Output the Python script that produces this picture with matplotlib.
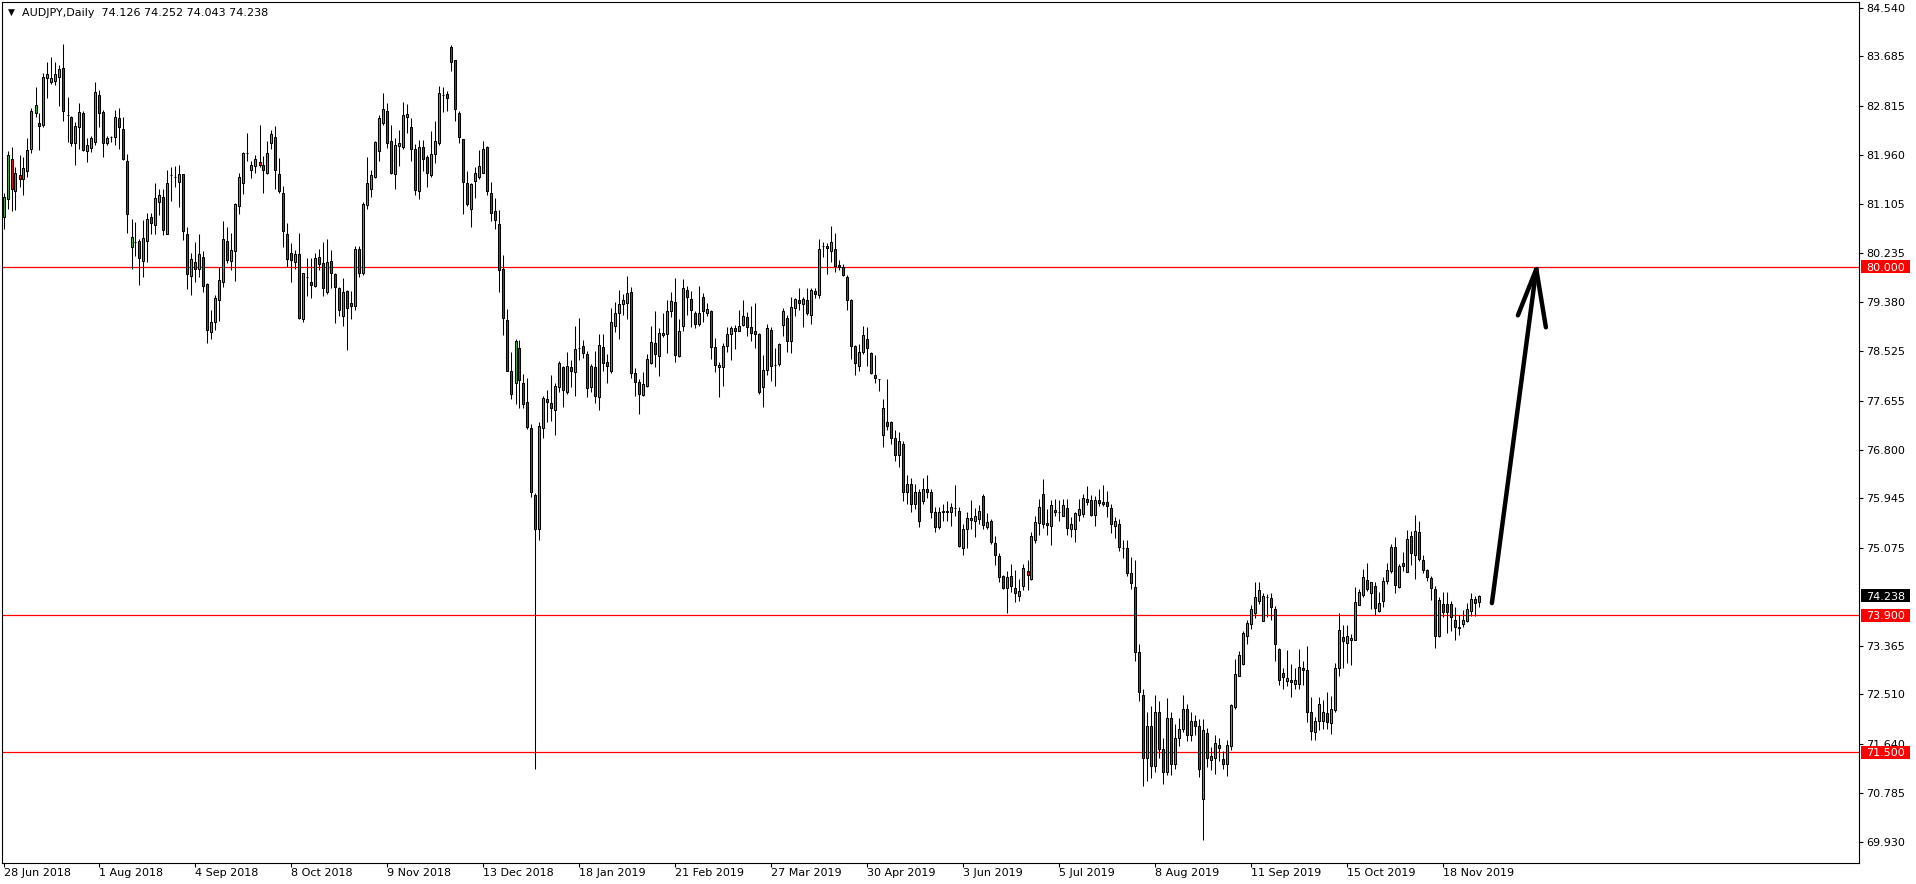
import numpy as np
import matplotlib.pyplot as plt
from matplotlib.patches import Rectangle
from matplotlib.transforms import blended_transform_factory

plt.rcParams['font.family'] = ['DejaVu Sans']

# AUDJPY daily candles, 28 Jun 2018 .. 29 Nov 2019
opens = [
    80.88, 81.18, 81.88, 81.32, 81.60, 81.53, 81.67, 82.06, 82.69, 82.51,
    82.48, 83.30, 83.24, 83.26, 83.32, 83.48, 82.66, 82.62, 82.16, 82.45,
    82.69, 82.03, 82.08, 82.18, 83.00, 82.71, 82.16, 82.27, 82.27, 82.60,
    82.42, 81.86, 80.34, 80.44, 80.45, 80.11, 80.46, 80.88, 80.74, 81.14,
    81.22, 80.58, 81.60, 81.57, 81.49, 81.62, 80.57, 79.84, 80.08, 79.96,
    80.17, 79.70, 78.85, 79.04, 79.41, 79.74, 80.46, 80.11, 80.27, 81.07,
    81.47, 81.99, 81.69, 81.76, 81.83, 81.78, 81.65, 82.16, 82.27, 81.62,
    81.30, 80.57, 80.25, 80.09, 80.22, 79.08, 79.82, 79.73, 79.66, 80.17,
    80.06, 79.55, 80.10, 79.87, 79.62, 79.14, 79.57, 79.36, 79.31, 80.32,
    79.90, 81.09, 81.36, 81.58, 82.03, 82.52, 82.73, 82.20, 81.62, 82.12,
    82.09, 82.63, 82.44, 82.07, 81.32, 82.09, 81.92, 81.60, 81.97, 82.17,
    83.01, 83.02, 83.85, 83.62, 82.70, 82.23, 81.46, 81.01, 81.50, 81.58,
    81.65, 82.10, 81.30, 80.98, 80.75, 79.96, 79.07, 78.17, 77.97, 78.57,
    77.96, 77.64, 77.18, 76.01, 75.40, 77.17, 77.68, 77.61, 77.50, 77.89,
    78.24, 77.80, 78.25, 78.15, 78.58, 78.61, 78.48, 77.89, 78.24, 77.72,
    78.59, 78.34, 78.17, 78.97, 79.19, 79.35, 79.36, 79.56, 78.14, 77.99,
    77.75, 77.92, 78.32, 78.66, 78.43, 78.80, 78.83, 79.22, 79.38, 78.44,
    78.96, 79.59, 79.44, 79.19, 79.00, 79.47, 79.19, 79.23, 78.60, 78.25,
    78.25, 78.61, 78.83, 78.93, 78.88, 78.98, 79.12, 78.95, 78.87, 78.83,
    77.89, 78.20, 78.90, 78.28, 78.29, 78.98, 79.11, 78.70, 79.28, 79.42,
    79.34, 79.42, 79.16, 79.57, 79.50, 80.36, 80.37, 80.27, 80.31, 80.03,
    79.99, 79.82, 79.42, 78.62, 78.26, 78.50, 78.74, 78.49, 78.11, 78.03,
    77.05, 77.28, 77.28, 77.00, 76.70, 76.90, 76.05, 76.20, 75.85, 76.05,
    75.90, 76.10, 76.05, 75.70, 75.45, 75.70, 75.72, 75.70, 75.78, 75.73,
    75.08, 75.41, 75.60, 75.55, 75.59, 75.99, 75.44, 75.55, 75.17, 74.94,
    74.59, 74.37, 74.58, 74.37, 74.23, 74.41, 74.68, 74.54, 75.21, 75.52,
    76.02, 75.52, 75.46, 75.74, 75.71, 75.63, 75.78, 75.40, 75.41, 75.65,
    75.67, 75.94, 75.91, 75.66, 75.91, 75.88, 75.88, 75.78, 75.46, 75.50,
    75.07, 75.08, 74.64, 74.40, 73.25, 72.50, 71.40, 71.95, 71.25, 72.20,
    71.55, 71.15, 72.10, 71.30, 71.75, 71.90, 72.25, 71.80, 72.05, 71.95,
    70.68, 71.84, 71.36, 71.40, 71.62, 71.38, 71.29, 71.61, 72.29, 72.84,
    73.05, 73.53, 73.74, 73.93, 74.15, 73.80, 74.21, 74.20, 74.00, 73.30,
    72.89, 72.75, 72.77, 72.70, 72.70, 72.97, 72.94, 72.21, 71.85, 72.04,
    72.04, 72.18, 72.01, 72.24, 72.97, 73.52, 73.41, 73.46, 73.47, 74.08,
    74.26, 74.52, 74.28, 74.41, 73.98, 74.14, 74.49, 74.68, 75.09, 74.40,
    74.81, 74.66, 75.29, 74.96, 75.35, 74.86, 74.69, 74.55, 74.36, 73.53,
    74.09, 74.09, 74.09, 73.81, 73.70, 73.75, 73.80, 73.97, 74.18, 74.126,
]
highs = [
    81.29, 82.02, 82.09, 81.75, 81.95, 81.93, 82.25, 82.78, 83.15, 82.69,
    83.40, 83.58, 83.67, 83.59, 83.53, 83.90, 82.97, 82.64, 82.54, 82.86,
    82.72, 82.25, 82.29, 83.24, 83.10, 82.75, 82.29, 82.29, 82.75, 82.78,
    82.62, 81.97, 80.83, 80.79, 80.48, 80.82, 80.95, 80.94, 81.46, 81.36,
    81.37, 81.69, 81.75, 81.77, 81.78, 81.62, 80.70, 80.25, 80.43, 80.57,
    80.28, 79.71, 79.25, 79.51, 79.99, 80.80, 80.70, 80.60, 81.11, 81.64,
    82.01, 82.34, 81.86, 81.96, 82.49, 81.94, 82.20, 82.40, 82.46, 81.91,
    81.41, 80.77, 80.41, 80.29, 80.59, 79.90, 80.15, 80.15, 80.24, 80.32,
    80.43, 80.48, 80.30, 79.90, 79.65, 79.80, 79.59, 79.58, 80.36, 80.37,
    81.13, 81.93, 81.70, 82.20, 82.66, 83.04, 82.86, 82.49, 82.26, 82.40,
    82.89, 82.85, 82.61, 82.15, 82.22, 82.22, 81.95, 82.38, 82.56, 83.17,
    83.15, 83.08, 83.88, 83.63, 82.73, 82.24, 81.68, 81.47, 81.75, 82.05,
    82.20, 82.12, 81.48, 81.20, 81.00, 80.21, 79.26, 78.51, 78.74, 78.72,
    78.12, 78.05, 77.24, 76.04, 77.29, 77.73, 77.84, 78.11, 77.97, 78.35,
    78.27, 78.51, 78.36, 78.97, 79.11, 78.71, 78.53, 78.29, 78.53, 78.82,
    78.82, 78.47, 79.28, 79.38, 79.60, 79.53, 79.84, 79.65, 78.22, 78.03,
    78.16, 78.48, 78.96, 79.23, 78.93, 79.19, 79.42, 79.56, 79.81, 79.08,
    79.78, 79.67, 79.57, 79.23, 79.66, 79.54, 79.36, 79.25, 78.76, 78.34,
    78.66, 78.94, 78.96, 78.98, 79.25, 79.41, 79.20, 79.32, 79.36, 78.84,
    78.45, 79.00, 78.95, 78.58, 78.67, 79.27, 79.16, 79.47, 79.46, 79.63,
    79.47, 79.62, 79.63, 79.62, 80.48, 80.44, 80.41, 80.72, 80.60, 80.12,
    80.05, 79.85, 79.43, 78.63, 78.64, 78.96, 78.95, 78.50, 78.46, 78.04,
    77.68, 78.04, 77.30, 77.15, 77.10, 76.95, 76.35, 76.30, 76.20, 76.10,
    76.30, 76.35, 76.10, 75.80, 75.80, 75.85, 75.90, 75.87, 76.17, 75.80,
    75.49, 75.70, 75.91, 75.78, 75.82, 76.02, 75.68, 75.59, 75.29, 74.98,
    74.60, 74.68, 74.79, 74.69, 74.54, 74.80, 74.87, 75.36, 75.63, 75.93,
    76.29, 75.75, 75.91, 75.93, 75.91, 75.93, 75.93, 75.62, 75.71, 75.93,
    76.02, 76.16, 76.01, 75.99, 76.11, 76.17, 76.08, 75.84, 75.62, 75.59,
    75.21, 75.21, 74.91, 74.87, 73.40, 72.60, 72.20, 72.30, 72.50, 72.40,
    71.75, 72.45, 72.20, 72.00, 72.10, 72.50, 72.35, 72.20, 72.15, 72.08,
    72.08, 71.93, 71.59, 71.80, 71.75, 71.52, 71.71, 72.35, 73.14, 73.28,
    73.63, 73.81, 74.08, 74.48, 74.48, 74.28, 74.27, 74.28, 74.06, 73.33,
    72.98, 73.29, 73.05, 72.98, 73.31, 73.10, 73.36, 72.46, 72.11, 72.46,
    72.42, 72.55, 72.48, 73.07, 73.94, 73.73, 73.72, 73.57, 74.40, 74.35,
    74.71, 74.82, 74.48, 74.48, 74.31, 74.56, 74.82, 75.14, 75.27, 74.79,
    75.00, 75.39, 75.38, 75.66, 75.55, 74.96, 74.70, 74.58, 74.41, 74.21,
    74.31, 74.30, 74.14, 74.05, 73.90, 73.99, 74.11, 74.29, 74.23, 74.252,
]
lows = [
    80.66, 81.01, 80.97, 80.99, 81.40, 81.25, 81.57, 82.00, 82.63, 82.05,
    82.45, 82.96, 83.20, 83.18, 82.82, 82.56, 82.19, 82.12, 81.79, 82.07,
    82.02, 81.84, 82.01, 82.13, 82.45, 81.93, 82.13, 82.19, 82.13, 82.06,
    81.87, 80.60, 79.97, 80.19, 79.69, 79.83, 80.09, 80.57, 80.58, 80.90,
    80.55, 80.57, 81.16, 81.40, 81.04, 80.47, 79.61, 79.51, 79.74, 79.83,
    79.55, 78.67, 78.74, 78.90, 79.05, 79.65, 80.06, 79.94, 79.76, 80.93,
    81.27, 81.85, 81.55, 81.65, 81.74, 81.29, 81.63, 82.06, 81.36, 81.30,
    80.35, 79.99, 79.74, 79.96, 79.09, 79.03, 79.48, 79.46, 79.64, 79.94,
    79.48, 79.53, 79.63, 79.02, 79.14, 78.97, 78.55, 79.09, 79.24, 79.83,
    79.85, 81.01, 81.23, 81.55, 81.85, 82.48, 82.08, 81.63, 81.37, 81.77,
    82.07, 82.34, 81.86, 81.25, 81.18, 81.68, 81.40, 81.57, 81.81, 82.14,
    82.71, 82.73, 83.43, 82.55, 82.16, 80.92, 81.07, 80.70, 81.20, 81.54,
    81.64, 81.26, 80.80, 80.66, 79.56, 78.81, 78.17, 77.68, 77.59, 77.52,
    77.52, 77.16, 75.96, 71.21, 75.22, 77.01, 77.29, 77.30, 77.06, 77.80,
    77.55, 77.77, 77.89, 77.74, 78.37, 78.41, 77.72, 77.81, 77.62, 77.50,
    78.17, 77.96, 78.14, 78.85, 78.73, 79.15, 79.08, 78.05, 77.73, 77.42,
    77.73, 77.90, 78.30, 78.24, 78.08, 78.77, 78.49, 79.12, 78.34, 78.42,
    78.88, 79.15, 78.94, 78.93, 78.97, 79.03, 79.14, 78.38, 78.16, 77.72,
    77.91, 78.50, 78.36, 78.56, 78.87, 78.96, 78.79, 78.70, 78.58, 77.77,
    77.54, 78.10, 78.00, 77.91, 78.27, 78.78, 78.50, 78.49, 79.14, 79.24,
    78.94, 79.15, 78.99, 79.46, 79.45, 80.17, 79.88, 80.08, 79.91, 79.94,
    79.84, 79.24, 78.38, 78.11, 78.17, 78.48, 78.27, 78.13, 77.97, 77.82,
    76.85, 77.15, 76.90, 76.60, 76.50, 75.90, 75.85, 75.70, 75.75, 75.45,
    75.85, 75.95, 75.60, 75.35, 75.40, 75.55, 75.55, 75.46, 75.63, 75.10,
    74.96, 75.07, 75.40, 75.27, 75.50, 75.41, 75.40, 75.15, 74.78, 74.48,
    74.35, 73.93, 74.31, 74.13, 74.14, 74.34, 74.34, 74.52, 75.17, 75.31,
    75.43, 75.31, 75.13, 75.63, 75.55, 75.63, 75.30, 75.27, 75.18, 75.55,
    75.62, 75.83, 75.63, 75.46, 75.81, 75.81, 75.62, 75.33, 75.25, 75.02,
    74.90, 74.59, 74.35, 73.10, 72.40, 70.90, 71.00, 71.05, 71.15, 71.40,
    70.95, 71.10, 71.10, 71.20, 71.60, 71.85, 71.70, 71.70, 71.80, 71.06,
    69.96, 71.24, 71.19, 71.12, 71.35, 71.20, 71.08, 71.54, 72.25, 72.83,
    73.03, 73.39, 73.65, 73.85, 74.10, 73.79, 73.87, 73.82, 73.10, 72.68,
    72.60, 72.66, 72.46, 72.60, 72.60, 72.68, 72.02, 71.72, 71.72, 71.89,
    71.90, 71.90, 71.82, 72.21, 72.84, 72.98, 73.06, 73.03, 73.46, 74.07,
    74.22, 74.33, 74.00, 73.91, 73.95, 74.05, 74.44, 74.63, 74.29, 74.38,
    74.68, 74.65, 74.78, 74.54, 74.84, 74.64, 74.50, 74.17, 73.33, 73.51,
    73.86, 73.58, 73.63, 73.47, 73.56, 73.70, 73.78, 73.88, 73.89, 74.043,
]
closes = [
    81.23, 81.95, 81.37, 81.65, 81.53, 81.73, 82.04, 82.73, 82.83, 82.47,
    83.32, 83.38, 83.30, 83.38, 83.46, 82.72, 82.66, 82.16, 82.46, 82.71,
    82.04, 82.14, 82.25, 83.07, 82.69, 82.17, 82.25, 82.27, 82.62, 82.45,
    81.88, 80.92, 80.52, 80.44, 80.15, 80.50, 80.83, 80.76, 81.20, 81.26,
    80.65, 81.46, 81.60, 81.57, 81.62, 80.62, 79.88, 80.13, 79.97, 80.22,
    79.67, 78.90, 79.03, 79.45, 79.77, 80.48, 80.12, 80.29, 81.10, 81.57,
    82.00, 81.99, 81.78, 81.88, 81.79, 81.70, 82.00, 82.32, 81.69, 81.33,
    80.63, 80.14, 80.12, 80.22, 79.11, 79.89, 79.82, 79.69, 80.15, 80.05,
    79.62, 80.08, 79.89, 79.65, 79.25, 79.55, 79.27, 79.32, 80.32, 79.90,
    81.10, 81.46, 81.61, 82.19, 82.60, 82.76, 82.17, 81.64, 82.13, 82.16,
    82.65, 82.67, 82.07, 81.34, 82.09, 81.88, 81.65, 81.97, 82.20, 83.04,
    83.01, 82.95, 83.59, 82.76, 82.27, 81.49, 81.10, 81.45, 81.65, 81.77,
    82.06, 81.33, 80.95, 80.82, 79.94, 79.11, 78.18, 77.77, 78.70, 78.01,
    77.59, 77.20, 76.05, 75.40, 77.22, 77.70, 77.63, 77.52, 77.91, 78.31,
    77.84, 78.27, 78.18, 78.56, 78.58, 78.49, 77.87, 78.26, 77.74, 78.63,
    78.32, 78.26, 79.03, 79.19, 79.35, 79.41, 79.54, 78.14, 77.99, 77.78,
    77.95, 78.39, 78.68, 78.48, 78.84, 78.84, 79.23, 79.40, 78.46, 78.88,
    79.62, 79.47, 79.25, 79.00, 79.19, 79.22, 79.26, 78.59, 78.28, 78.28,
    78.62, 78.83, 78.92, 78.88, 78.97, 79.13, 78.95, 78.84, 78.83, 77.80,
    78.20, 78.93, 78.26, 78.28, 78.65, 79.22, 78.70, 79.29, 79.43, 79.36,
    79.44, 79.19, 79.60, 79.52, 80.31, 80.36, 80.33, 80.43, 80.01, 79.99,
    79.85, 79.42, 78.62, 78.31, 78.51, 78.80, 78.57, 78.14, 78.05, 78.03,
    77.53, 77.21, 77.00, 76.70, 76.95, 76.05, 76.20, 75.85, 76.05, 75.55,
    76.10, 76.05, 75.70, 75.45, 75.70, 75.72, 75.70, 75.80, 75.78, 75.11,
    75.40, 75.60, 75.56, 75.63, 75.73, 75.48, 75.53, 75.18, 74.95, 74.57,
    74.37, 74.57, 74.41, 74.29, 74.33, 74.72, 74.60, 75.29, 75.53, 75.80,
    75.50, 75.47, 75.82, 75.70, 75.71, 75.83, 75.43, 75.50, 75.68, 75.75,
    75.95, 75.88, 75.65, 75.92, 75.86, 75.84, 75.81, 75.50, 75.54, 75.09,
    75.07, 74.64, 74.47, 73.25, 72.55, 71.40, 71.95, 71.25, 72.20, 71.55,
    71.15, 72.10, 71.30, 71.75, 71.90, 72.25, 71.80, 72.05, 71.95, 71.20,
    71.89, 71.40, 71.44, 71.66, 71.57, 71.29, 71.62, 72.32, 72.87, 73.21,
    73.59, 73.77, 74.01, 74.21, 74.34, 74.23, 74.21, 74.04, 73.39, 72.76,
    72.81, 72.80, 72.72, 72.77, 72.99, 72.93, 72.21, 71.87, 72.05, 72.34,
    72.21, 72.02, 72.25, 72.97, 73.64, 73.44, 73.54, 73.50, 74.13, 74.30,
    74.57, 74.36, 74.48, 74.03, 74.12, 74.50, 74.69, 75.10, 74.43, 74.76,
    74.76, 75.23, 74.99, 75.37, 74.89, 74.69, 74.56, 74.38, 73.54, 74.16,
    73.96, 73.95, 73.86, 73.70, 73.67, 73.81, 74.01, 74.18, 74.11, 74.238,
]

title = 'AUDJPY,Daily  74.126 74.252 74.043 74.238'
date_labels = ['28 Jun 2018', '1 Aug 2018', '4 Sep 2018', '8 Oct 2018', '9 Nov 2018',
               '13 Dec 2018', '18 Jan 2019', '21 Feb 2019', '27 Mar 2019', '30 Apr 2019',
               '3 Jun 2019', '5 Jul 2019', '8 Aug 2019', '11 Sep 2019', '15 Oct 2019',
               '18 Nov 2019']
date_bars = [0, 24, 48, 72, 96, 120, 144, 168, 192, 216, 240, 264, 288, 312, 336, 360]
price_ticks = [84.540, 83.685, 82.815, 81.960, 81.105, 80.235, 79.380, 78.525, 77.655,
               76.800, 75.945, 75.075, 73.365, 72.510, 71.640, 70.785, 69.930]
levels = [80.000, 73.900, 71.500]
last_price = 74.238

# hand drawn arrow (bar index, price)
arrow_x = [372.1, 383.2]
arrow_y = [74.11, 79.96]
head_left = ([378.6, 383.2], [79.15, 79.96])
head_right = ([385.6, 383.2], [78.94, 79.96])

# screen layout in pixels
W, H = 1916, 884
left_px, right_px, top_px, bottom_px = 1.5, 1859.0, 1.5, 863.0
bar0_px, bar_px = 3.5, 4.0
y80_px, px_per_unit = 266.8, 57.1

fig = plt.figure(figsize=(W / 100, H / 100), dpi=100)
ax = fig.add_axes([left_px / W, 1 - bottom_px / H,
                   (right_px - left_px) / W, (bottom_px - top_px) / H])
ax.set_xlim((left_px - bar0_px) / bar_px, (right_px - bar0_px) / bar_px)
ax.set_ylim(80 - (bottom_px - y80_px) / px_per_unit, 80 + (y80_px - top_px) / px_per_unit)

o = np.array(opens)
h = np.array(highs)
l = np.array(lows)
c = np.array(closes)
x = np.arange(len(c))
up = c >= o

bull = '#3cb43c'
bear = '#e41010'
ax.vlines(x, l, h, color='black', lw=0.75, zorder=2)
ax.bar(x[up], (c - o)[up], bottom=o[up], width=0.5, color=bull,
       edgecolor='black', linewidth=0.75, zorder=3)
ax.bar(x[~up], (o - c)[~up], bottom=c[~up], width=0.5, color=bear,
       edgecolor='black', linewidth=0.75, zorder=3)

for lv in levels:
    ax.axhline(lv, color='#ff0000', lw=0.9, zorder=1)

# arrow
ax.plot(arrow_x, arrow_y, color='black', lw=3.2, solid_capstyle='round', zorder=4)
ax.plot(*head_left, color='black', lw=3.2, solid_capstyle='round', zorder=4)
ax.plot(*head_right, color='black', lw=3.2, solid_capstyle='round', zorder=4)

for s in ax.spines.values():
    s.set_color('black')
    s.set_linewidth(0.8)

ax.yaxis.tick_right()
ax.set_yticks(price_ticks)
ax.set_yticklabels([f'{v:.3f}' for v in price_ticks])
ax.tick_params(axis='y', direction='out', length=3, width=0.8, pad=2,
               labelsize=8, colors='black')

ax.set_xticks(date_bars)
ax.set_xticklabels(date_labels, ha='left')
ax.tick_params(axis='x', direction='out', length=3, width=0.8, pad=0.5,
               labelsize=8, colors='black')

# coloured price labels on the scale
trans = blended_transform_factory(ax.transAxes, ax.transData)
span = right_px - left_px
box_x = (1861 - left_px) / span
box_w = 49 / span
half = 6.5 / px_per_unit
text_x = (1866 - left_px) / span
for lv, col in [(levels[0], '#ff0000'), (last_price, '#000000'),
                (levels[1], '#ff0000'), (levels[2], '#ff0000')]:
    ax.add_patch(Rectangle((box_x, lv - half), box_w, 2 * half, transform=trans,
                           facecolor=col, edgecolor='none', clip_on=False, zorder=5))
    ax.text(text_x, lv, f'{lv:.3f}', transform=trans, color='white', fontsize=8,
            va='center_baseline', ha='left', clip_on=False, zorder=6)

# title
fig.text(7.5 / W, 1 - 12.5 / H, '\u25bc', fontsize=6.5, va='center', ha='left', color='black')
fig.text(22 / W, 1 - 12.5 / H, title, fontsize=8, va='center', ha='left', color='black')

fig.savefig('out.png', dpi=100)
